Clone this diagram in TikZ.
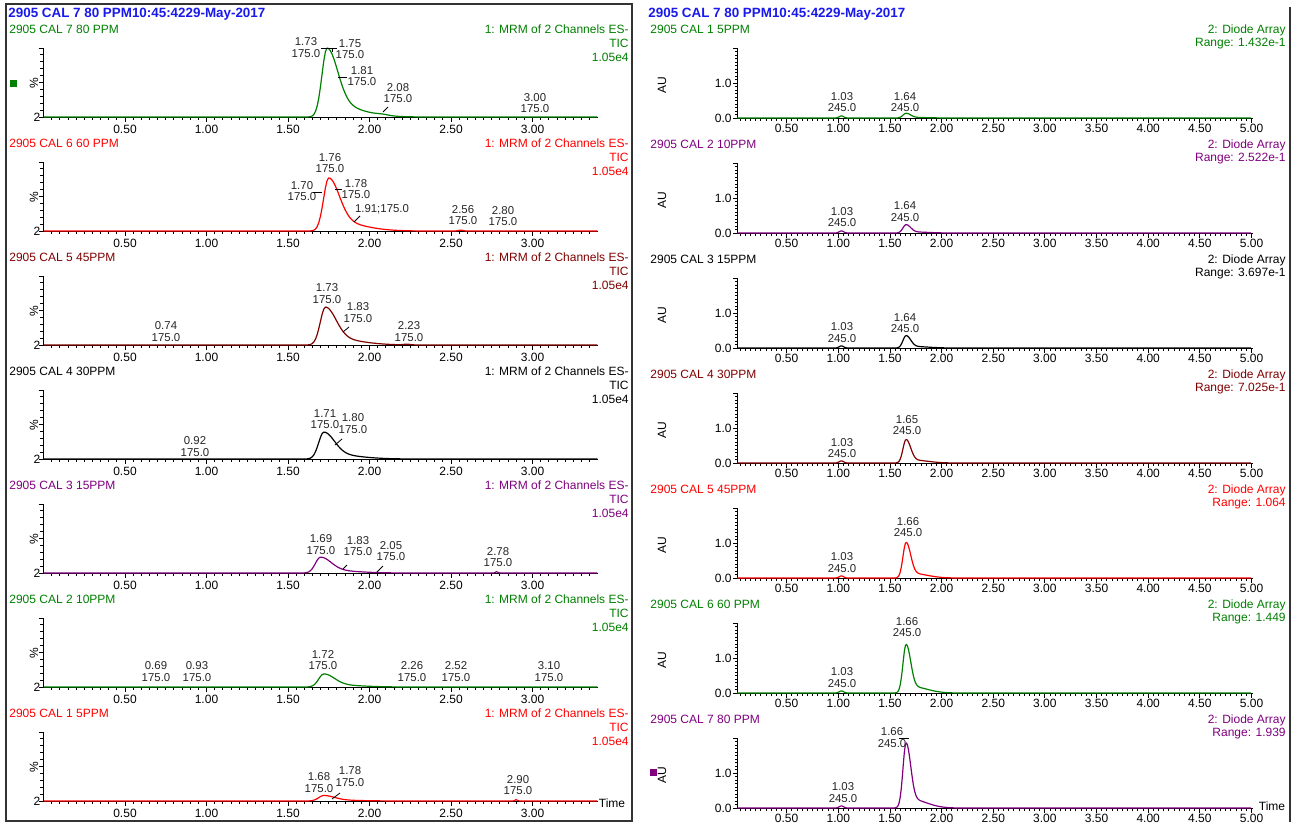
\documentclass[tikz,border=0pt]{standalone}
\usepackage{fontspec}
\setmainfont{Liberation Sans}
\definecolor{cg}{RGB}{0,128,0}
\definecolor{cr}{RGB}{255,0,0}
\definecolor{cb}{RGB}{128,0,0}
\definecolor{cp}{RGB}{128,0,128}
\definecolor{ck}{RGB}{0,0,0}
\definecolor{hb}{RGB}{25,25,235}
\pgfmathdeclarefunction{gs}{3}{\pgfmathparse{exp(0-(min(abs((#1-#2)/#3),4))^2)}}
\pgfmathdeclarefunction{apk}{4}{\pgfmathparse{(#1<#2)*gs(#1,#2,#3)+(1-(#1<#2))*gs(#1,#2,#4)}}
% left frame: #1 axis y, #2 colour, #3 title, #4 id
\newcommand\LFrame[4]{%
  \node[ttl,text=#2,anchor=west] (lt#4) at (9,{#1-88}) {#3};
  \node[ttl,text=#2,anchor=east] (lm#4) at (629,{#1-88}) {1: MRM of 2 Channels ES-};
  \node[ttl,text=#2,anchor=east] (lc#4) at (629,{#1-74}) {TIC};
  \node[ttl,text=#2,anchor=east] (le#4) at (629,{#1-60}) {1.05e4};
  \node[ttl,rotate=90] (lp#4) at (34,{#1-34}) {\%};
  \node[ttl] (lz#4) at (37,#1) {2};
  \draw[ax] (43,#1) -- (43,{#1-69});
  \foreach \k in {0,...,10} {\draw[ax] (40,{#1-6.9*\k}) -- (43,{#1-6.9*\k});}
  \foreach \k in {0,5,10} {\draw[ax] (38.5,{#1-6.9*\k}) -- (43,{#1-6.9*\k});}
  \draw[ax] (43,#1) -- (598,#1);
  \foreach \k in {1,...,67} {\draw[ax] ({43.5+8.15*\k},#1) -- ++(0,3);}
  \foreach \k in {1,...,6} {\draw[ax] ({43.5+81.5*\k},#1) -- ++(0,5);}
  \foreach \v/\l [count=\c] in {0.5/0.50,1/1.00,1.5/1.50,2/2.00,2.5/2.50,3/3.00}
    {\node[ttl] (lx#4\c) at ({43.5+163*\v},{#1+12}) {\l};}
}
% left curve: #1 axis y, #2 colour, #3 amplitude, #4 apex, #5 extra terms
\newcommand\Lcurve[5]{%
  \draw[trace=#2] plot[domain=0:3.4,samples=341,variable=\t]
    ({43.5+163*\t},{#1-69*(#3*(0.8*apk(\t,#4,0.045,0.09)+0.2*apk(\t,#4,0.045,0.25))+#5)});
}
% right frame: #1 axis y, #2 colour, #3 title, #4 range, #5 id
\newcommand\RFrame[5]{%
  \node[ttl,text=#2,anchor=west] (rt#5) at (650,{#1-89}) {#3};
  \node[ttl,text=#2,anchor=east] (rd#5) at (1286,{#1-88}) {2: Diode Array};
  \node[ttl,text=#2,anchor=east] (rr#5) at (1286,{#1-74}) {Range: #4};
  \node[ttl,rotate=90] (ra#5) at (662,{#1-33}) {AU};
  \node[ttl,anchor=east] (r1#5) at (732,{#1-35}) {1.0};
  \node[ttl,anchor=east] (r0#5) at (732,#1) {0.0};
  \draw[ax] (737,#1) -- (737,{#1-70});
  \foreach \k in {0,...,20} {\draw[ax] (735,{#1-3.5*\k}) -- (737,{#1-3.5*\k});}
  \foreach \k in {0,10,20} {\draw[ax] (733,{#1-3.5*\k}) -- (737,{#1-3.5*\k});}
  \draw[ax] (737,#1) -- (1253,#1);
  \foreach \k in {1,...,100} {\draw[ax] ({735+5.165*\k},#1) -- ++(0,2.5);}
  \foreach \k in {1,...,10} {\draw[ax] ({735+51.65*\k},#1) -- ++(0,4.5);}
  \foreach \v/\l [count=\c] in {0.5/0.50,1/1.00,1.5/1.50,2/2.00,2.5/2.50,3/3.00,3.5/3.50,4/4.00,4.5/4.50,5/5.00}
    {\node[ttl] (rx#5\c) at ({735+103.3*\v},{#1+10}) {\l};}
}
% right curve: #1 axis y, #2 colour, #3 amplitude (AU), #4 bump at 1.03
\newcommand\Rcurve[4]{%
  \draw[trace=#2] plot[domain=0.02:5.0,samples=499,variable=\t]
    ({735+103.3*\t},{#1-35*(#3*(0.92*apk(\t,1.655,0.042,0.06)+0.12*apk(\t,1.72,0.06,0.2))+#4*gs(\t,1.03,0.03))});
}
\newcommand\PL[4]{\node[pk] (#1) at (#2,#3) {#4\\175.0};}
\newcommand\PR[4]{\node[pk] (#1) at (#2,#3) {#4\\245.0};}
\begin{document}
\begin{tikzpicture}[x=0.5pt,y=-0.5pt,
  ttl/.style={font=\fontsize{6}{7}\selectfont,inner sep=0pt},
  pk/.style={font=\fontsize{5.7}{5.6}\selectfont,inner sep=0pt,align=center,text=black!85},
  ax/.style={line width=0.45pt,black},
  trace/.style={draw=#1,line width=0.6pt,line join=round},
  ld/.style={line width=0.4pt,black},
  hd/.style={font=\fontsize{6.7}{8}\selectfont\bfseries,text=hb,inner sep=0pt,anchor=west}]
\useasboundingbox (0,0) rectangle (1299,825);
\fill[white] (0,0) rectangle (1299,825);
% frames
\draw[line width=1pt,black!80] (6,4) rectangle (632,821);
\coordinate (rtop) at (1290,7);
\coordinate (rbot) at (1290,822);
\draw[line width=1pt,black!80] (rtop) -- (rbot);
% headers
\node[hd] (hl) at (8,14) {2905 CAL 7 80 PPM10:45:4229-May-2017};
\node[hd] (hr) at (648,14) {2905 CAL 7 80 PPM10:45:4229-May-2017};

% ---------------- LEFT ----------------
\LFrame{117}{cg}{2905 CAL 7 80 PPM}{a}
\Lcurve{117}{cg}{1.0}{1.74}{0.012*gs(\t,2.08,0.05)}
\node[fill=cg,inner sep=0pt,minimum size=3.5pt] (sqa) at (13,83) {};
\PL{pa1}{306}{47.5}{1.73}
\PL{pa2}{350}{49}{1.75}
\PL{pa3}{362}{76}{1.81}
\PL{pa4}{398}{93}{2.08}
\PL{pa5}{535}{103}{3.00}
\draw[ld] (pa1.east) ++(0,1) -- ++(9,0);
\draw[ld] (327,48) -- (337,48) (332,48) -- (332,52);
\draw[ld] (338,77) -- (347,77);
\draw[ld] (383,112) -- (388,107);

\LFrame{231}{cr}{2905 CAL 6 60 PPM}{b}
\Lcurve{231}{cr}{0.77}{1.75}{0.012*gs(\t,2.56,0.02)}
\PL{pb1}{330}{163}{1.76}
\PL{pb2}{302}{191}{1.70}
\PL{pb3}{356}{189}{1.78}
\node[pk] (pb4) at (382,209) {1.91;175.0};
\PL{pb5}{463}{215}{2.56}
\PL{pb6}{503}{216}{2.80}
\draw[ld] (313,192) -- (322,192);
\draw[ld] (335,189) -- (342,189);
\draw[ld] (354,222) -- (360,216);

\LFrame{345}{cb}{2905 CAL 5 45PPM}{c}
\Lcurve{345}{cb}{0.55}{1.73}{0.01*gs(\t,2.23,0.03)}
\PL{pc1}{327}{293.5}{1.73}
\PL{pc2}{358}{312.5}{1.83}
\PL{pc3}{166}{331.5}{0.74}
\PL{pc4}{409}{331.5}{2.23}
\draw[ld] (343,332) -- (349,327);

\LFrame{459}{ck}{2905 CAL 4 30PPM}{d}
\Lcurve{459}{ck}{0.39}{1.72}{0}
\PL{pd1}{325}{419}{1.71}
\PL{pd2}{353}{423.5}{1.80}
\PL{pd3}{195}{446.5}{0.92}
\draw[ld] (335,445) -- (342,439);

\LFrame{573}{cp}{2905 CAL 3 15PPM}{e}
\Lcurve{573}{cp}{0.23}{1.70}{0.02*gs(\t,2.78,0.01)}
\PL{pe1}{321}{544.5}{1.69}
\PL{pe2}{358}{546}{1.83}
\PL{pe3}{391}{551}{2.05}
\PL{pe4}{498}{557}{2.78}
\draw[ld] (343,569) -- (347,565);
\draw[ld] (377,572) -- (383,566);

\LFrame{687}{cg}{2905 CAL 2 10PPM}{f}
\Lcurve{687}{cg}{0.19}{1.72}{0}
\PL{pf1}{156}{671.5}{0.69}
\PL{pf2}{197}{671.5}{0.93}
\PL{pf3}{323}{660}{1.72}
\PL{pf4}{412}{671.5}{2.26}
\PL{pf5}{456}{671.5}{2.52}
\PL{pf6}{549}{671.5}{3.10}

\LFrame{801}{cr}{2905 CAL 1 5PPM}{g}
\Lcurve{801}{cr}{0.08}{1.72}{0.02*gs(\t,2.90,0.01)}
\PL{pg1}{319}{782.5}{1.68}
\PL{pg2}{350}{776.5}{1.78}
\PL{pg3}{518}{785}{2.90}
\draw[ld] (332,799) -- (340,793);
\node[ttl] (timeL) at (612,803) {Time};

% ---------------- RIGHT ----------------
\RFrame{118}{cg}{2905 CAL 1 5PPM}{1.432e-1}{a}
\Rcurve{118}{cg}{0.14}{0.06}
\PR{qa1}{842}{102}{1.03}
\PR{qa2}{905}{102}{1.64}

\RFrame{233}{cp}{2905 CAL 2 10PPM}{2.522e-1}{b}
\Rcurve{233}{cp}{0.25}{0.06}
\PR{qb1}{842}{217}{1.03}
\PR{qb2}{905}{211.5}{1.64}

\RFrame{348}{ck}{2905 CAL 3 15PPM}{3.697e-1}{c}
\Rcurve{348}{ck}{0.37}{0.06}
\PR{qc1}{842}{332.5}{1.03}
\PR{qc2}{905}{323}{1.64}

\RFrame{463}{cb}{2905 CAL 4 30PPM}{7.025e-1}{d}
\Rcurve{463}{cb}{0.70}{0.06}
\PR{qd1}{842}{448}{1.03}
\PR{qd2}{907}{425}{1.65}

\RFrame{578}{cr}{2905 CAL 5 45PPM}{1.064}{e}
\Rcurve{578}{cr}{1.06}{0.06}
\PR{qe1}{842}{562.5}{1.03}
\PR{qe2}{908}{527}{1.66}

\RFrame{693}{cg}{2905 CAL 6 60 PPM}{1.449}{f}
\Rcurve{693}{cg}{1.45}{0.06}
\PR{qf1}{842}{677.5}{1.03}
\PR{qf2}{907}{627}{1.66}

\RFrame{808}{cp}{2905 CAL 7 80 PPM}{1.939}{g}
\Rcurve{808}{cp}{1.94}{0.06}
\PR{qg1}{843}{792.5}{1.03}
\PR{qg2}{892}{737.5}{1.66}
\draw[ld] (899,738) -- (909,738);
\node[fill=cp,inner sep=0pt,minimum size=3.5pt] (sqg) at (653,772) {};
\node[ttl] (timeR) at (1272,806) {Time};
\end{tikzpicture}
\end{document}
